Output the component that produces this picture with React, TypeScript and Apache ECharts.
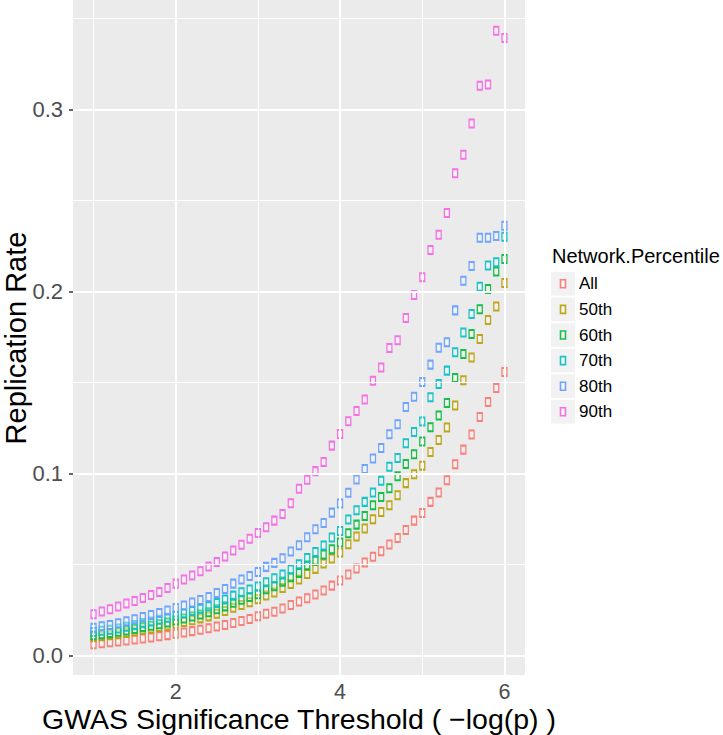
import React, { useEffect, useRef } from "react";
import * as echarts from "echarts";

const thresholds = [
  1.0, 1.1, 1.2, 1.3, 1.4, 1.5, 1.6, 1.7, 1.8, 1.9,
  2.0, 2.1, 2.2, 2.3, 2.4, 2.5, 2.6, 2.7, 2.8, 2.9,
  3.0, 3.1, 3.2, 3.3, 3.4, 3.5, 3.6, 3.7, 3.8, 3.9,
  4.0, 4.1, 4.2, 4.3, 4.4, 4.5, 4.6, 4.7, 4.8, 4.9,
  5.0, 5.1, 5.2, 5.3, 5.4, 5.5, 5.6, 5.7, 5.8, 5.9,
  6.0,
];

const seriesNames = ["All", "50th", "60th", "70th", "80th", "90th"];
const seriesColors = ["#F8766D", "#B79F00", "#00BA38", "#00BFC4", "#619CFF", "#F564E3"];

const rateAll = [
  0.0063, 0.0069, 0.0074, 0.0078, 0.0083, 0.0089, 0.0094, 0.0100, 0.0107, 0.0113,
  0.0120, 0.0127, 0.0135, 0.0142, 0.0151, 0.0160, 0.0169, 0.0180, 0.0191, 0.0202,
  0.0217, 0.0230, 0.0241, 0.0259, 0.0279, 0.0298, 0.0316, 0.0336, 0.0358, 0.0385,
  0.0413, 0.0446, 0.0479, 0.0512, 0.0543, 0.0574, 0.0611, 0.0647, 0.0690, 0.0742,
  0.0784, 0.0845, 0.0896, 0.0964, 0.1052, 0.1132, 0.1215, 0.1311, 0.1394, 0.1471,
  0.1558,
];
const rate50 = [
  0.0101, 0.0107, 0.0112, 0.0118, 0.0125, 0.0133, 0.0142, 0.0149, 0.0157, 0.0166,
  0.0176, 0.0185, 0.0195, 0.0205, 0.0216, 0.0231, 0.0246, 0.0264, 0.0279, 0.0294,
  0.0310, 0.0331, 0.0347, 0.0372, 0.0394, 0.0418, 0.0449, 0.0477, 0.0506, 0.0534,
  0.0567, 0.0612, 0.0655, 0.0699, 0.0750, 0.0790, 0.0826, 0.0881, 0.0948, 0.0997,
  0.1044, 0.1119, 0.1185, 0.1253, 0.1374, 0.1513, 0.1638, 0.1740, 0.1844, 0.1918,
  0.2047,
];
const rate60 = [
  0.0112, 0.0118, 0.0124, 0.0131, 0.0139, 0.0147, 0.0157, 0.0165, 0.0173, 0.0183,
  0.0194, 0.0204, 0.0215, 0.0226, 0.0239, 0.0255, 0.0271, 0.0291, 0.0307, 0.0322,
  0.0338, 0.0365, 0.0382, 0.0407, 0.0431, 0.0455, 0.0497, 0.0521, 0.0556, 0.0585,
  0.0622, 0.0673, 0.0720, 0.0768, 0.0826, 0.0872, 0.0920, 0.0986, 0.1053, 0.1107,
  0.1177, 0.1255, 0.1319, 0.1388, 0.1526, 0.1657, 0.1767, 0.1903, 0.2014, 0.2110,
  0.2179,
];
const rate70 = [
  0.0130, 0.0137, 0.0143, 0.0150, 0.0159, 0.0168, 0.0179, 0.0188, 0.0197, 0.0209,
  0.0221, 0.0233, 0.0246, 0.0258, 0.0272, 0.0290, 0.0309, 0.0330, 0.0349, 0.0364,
  0.0380, 0.0404, 0.0426, 0.0446, 0.0473, 0.0502, 0.0537, 0.0570, 0.0605, 0.0649,
  0.0685, 0.0748, 0.0799, 0.0845, 0.0896, 0.0961, 0.1038, 0.1086, 0.1167, 0.1229,
  0.1286, 0.1420, 0.1493, 0.1566, 0.1667, 0.1775, 0.1877, 0.2027, 0.2144, 0.2161,
  0.2302,
];
const rate80 = [
  0.0153, 0.0162, 0.0169, 0.0178, 0.0189, 0.0200, 0.0213, 0.0224, 0.0235, 0.0248,
  0.0262, 0.0276, 0.0292, 0.0306, 0.0323, 0.0345, 0.0367, 0.0396, 0.0418, 0.0438,
  0.0460, 0.0488, 0.0510, 0.0535, 0.0572, 0.0607, 0.0651, 0.0695, 0.0729, 0.0786,
  0.0836, 0.0895, 0.0968, 0.1026, 0.1083, 0.1141, 0.1216, 0.1272, 0.1366, 0.1423,
  0.1504, 0.1599, 0.1692, 0.1722, 0.1897, 0.2060, 0.2141, 0.2296, 0.2296, 0.2305,
  0.2362,
];
const rate90 = [
  0.0228, 0.0243, 0.0255, 0.0270, 0.0287, 0.0301, 0.0317, 0.0334, 0.0350, 0.0372,
  0.0396, 0.0418, 0.0440, 0.0464, 0.0490, 0.0515, 0.0545, 0.0578, 0.0610, 0.0643,
  0.0674, 0.0706, 0.0742, 0.0779, 0.0837, 0.0917, 0.0967, 0.1014, 0.1064, 0.1154,
  0.1218, 0.1288, 0.1344, 0.1407, 0.1511, 0.1583, 0.1690, 0.1733, 0.1855, 0.1981,
  0.2079, 0.2229, 0.2313, 0.2432, 0.2650, 0.2752, 0.2923, 0.3131, 0.3138, 0.3433,
  0.3393,
];
const seriesValues = [rateAll, rate50, rate60, rate70, rate80, rate90];

const xTickValues = [2, 4, 6];
const yTickValues = [0, 0.1, 0.2, 0.3];
const xMinorBreaks = [1, 3, 5];
const yMinorBreaks = [0.05, 0.15, 0.25, 0.35];

const xTitle = "GWAS Significance Threshold ( \u2212log(p) )";
const yTitle = "Replication Rate";
const legendTitle = "Network.Percentile";

const FONT = "'Liberation Sans', Arial, Helvetica, sans-serif";

export default function App() {
  const ref = useRef<HTMLDivElement>(null);

  useEffect(() => {
    if (!ref.current) return;
    const chart = echarts.init(ref.current, undefined, { renderer: "svg" });

    const gridLines = [
      ...xTickValues.map((v) => ({ xAxis: v, lineStyle: { color: "#FFFFFF", width: 2, type: "solid" } })),
      ...xMinorBreaks.map((v) => ({ xAxis: v, lineStyle: { color: "#FFFFFF", width: 1, type: "solid" } })),
      ...yTickValues.map((v) => ({ yAxis: v, lineStyle: { color: "#FFFFFF", width: 2, type: "solid" } })),
      ...yMinorBreaks.map((v) => ({ yAxis: v, lineStyle: { color: "#FFFFFF", width: 1, type: "solid" } })),
    ];

    const legendX = 551;
    const legendTop = 272;
    const legendStep = 25.6;
    const graphics: any[] = [
      {
        type: "text",
        x: 299,
        y: 719,
        silent: true,
        style: {
          text: xTitle,
          fontSize: 28.5,
          fontFamily: FONT,
          fill: "#000000",
          align: "center",
          verticalAlign: "middle",
        },
      },
      {
        type: "text",
        x: 16,
        y: 338,
        rotation: Math.PI / 2,
        silent: true,
        style: {
          text: yTitle,
          fontSize: 29,
          fontFamily: FONT,
          fill: "#000000",
          align: "center",
          verticalAlign: "middle",
        },
      },
      {
        type: "text",
        left: 552,
        top: 246,
        silent: true,
        style: { text: legendTitle, fontSize: 20, fontFamily: FONT, fill: "#000000" },
      },
    ];
    seriesNames.forEach((name, i) => {
      const cy = legendTop + legendStep * i + 11.8;
      graphics.push({
        type: "rect",
        shape: { x: legendX, y: legendTop + legendStep * i, width: 24, height: 23.6 },
        style: { fill: "#F2F2F2" },
        silent: true,
      });
      graphics.push({
        type: "rect",
        shape: { x: legendX + 12 - 2.5, y: cy - 4, width: 5, height: 8 },
        style: { fill: "rgba(255,255,255,0.35)", stroke: seriesColors[i], lineWidth: 1.6, opacity: 0.9 },
        silent: true,
      });
      graphics.push({
        type: "text",
        x: 579,
        y: cy,
        style: {
          text: name,
          fontSize: 17,
          fontFamily: FONT,
          fill: "#000000",
          verticalAlign: "middle",
        },
        silent: true,
      });
    });

    const option: any = {
      animation: false,
      backgroundColor: "#FFFFFF",
      grid: {
        left: 73,
        top: 0,
        width: 452,
        height: 675,
        show: true,
        backgroundColor: "#EBEBEB",
        borderWidth: 0,
        containLabel: false,
        outerBoundsMode: "none",
      },
      xAxis: {
        type: "value",
        min: 0.75,
        max: 6.25,
        axisLine: { show: false },
        splitLine: { show: false },
        axisTick: {
          show: true,
          customValues: xTickValues,
          length: 4,
          lineStyle: { color: "#333333", width: 1.5 },
        },
        axisLabel: {
          customValues: xTickValues,
          fontSize: 21.5,
          color: "#4D4D4D",
          margin: 6,
          fontFamily: FONT,
        },
      },
      yAxis: {
        type: "value",
        min: -0.0106,
        max: 0.3602,
        axisLine: { show: false },
        splitLine: { show: false },
        axisTick: {
          show: true,
          customValues: yTickValues,
          length: 4,
          lineStyle: { color: "#333333", width: 1.5 },
        },
        axisLabel: {
          customValues: yTickValues,
          fontSize: 22,
          color: "#4D4D4D",
          margin: 10,
          fontFamily: FONT,
          formatter: (v: number) => v.toFixed(1),
        },
      },
      graphic: graphics,
      series: [
        {
          type: "scatter",
          name: "gridlines",
          data: [],
          z: 1,
          silent: true,
          markLine: {
            silent: true,
            symbol: ["none", "none"],
            animation: false,
            label: { show: false },
            emphasis: { disabled: true },
            data: gridLines,
          },
        },
        ...seriesNames.map((name, i) => ({
          type: "scatter",
          name,
          z: 3,
          data: thresholds.map((x, j) => [x, seriesValues[i][j]]),
          symbol: "rect",
          symbolSize: [5, 8],
          itemStyle: {
            color: "rgba(255,255,255,0.35)",
            borderColor: seriesColors[i],
            borderWidth: 1.6,
            opacity: 0.9,
          },
          emphasis: { disabled: true },
        })),
      ],
    };

    chart.setOption(option);
    return () => chart.dispose();
  }, []);

  return (
    <div
      ref={ref}
      style={{ position: "absolute", left: 0, top: 0, width: 723, height: 735 }}
    />
  );
}
